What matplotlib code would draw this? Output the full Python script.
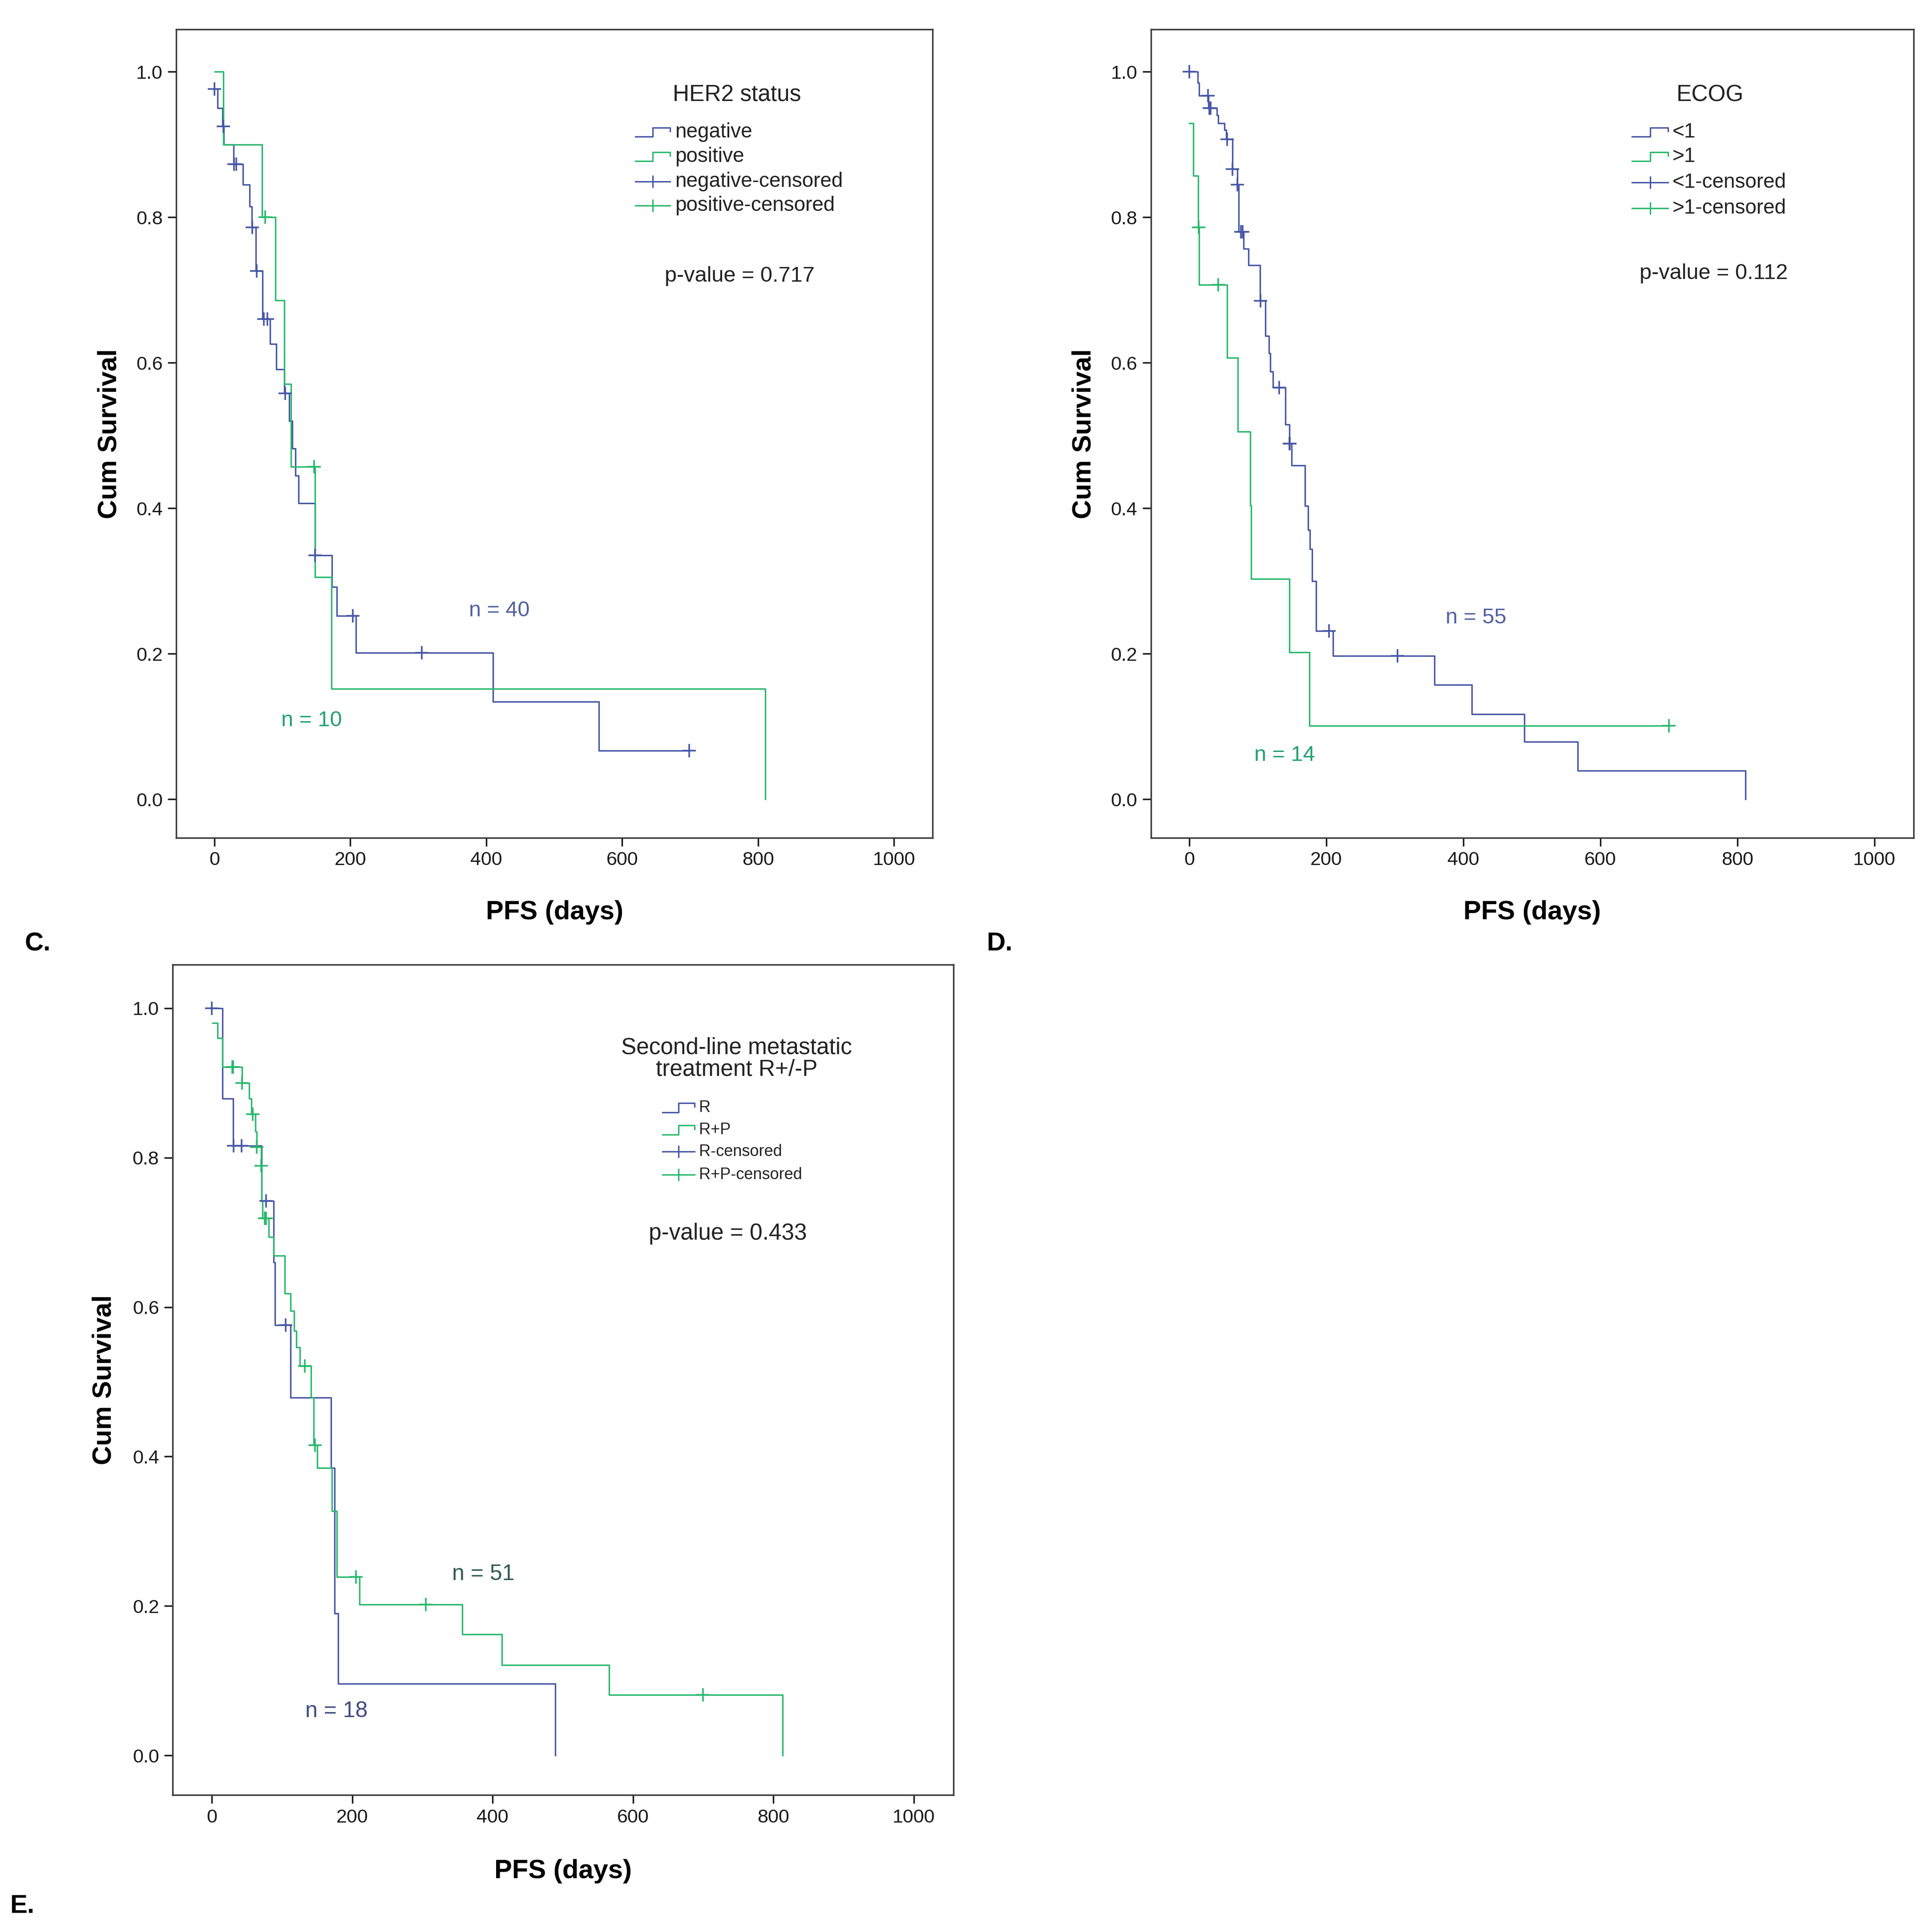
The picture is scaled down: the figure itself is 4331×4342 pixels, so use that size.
import numpy as np
import matplotlib
matplotlib.use('Agg')
import matplotlib.pyplot as plt
from matplotlib import font_manager

plt.rcParams['font.family'] = ['Liberation Sans', 'DejaVu Sans']
installed = {f.name for f in font_manager.fontManager.ttflist}
NARROW = 'Liberation Sans Narrow' if 'Liberation Sans Narrow' in installed else 'Liberation Sans'

BLUE = '#4656a6'
GREEN = '#27b86c'

# Kaplan-Meier step curves: step times (days), level after step
# panel C: HER2 status
c_neg_t = [0, 5, 12, 14, 28, 42, 52, 55, 61, 71, 82, 91, 103, 110, 115, 119, 124, 148, 173, 180, 208, 410, 566]
c_neg_s = [0.976, 0.95, 0.925, 0.9, 0.873, 0.845, 0.815, 0.786, 0.726, 0.66, 0.626, 0.591, 0.558, 0.52,
           0.482, 0.445, 0.407, 0.335, 0.292, 0.252, 0.201, 0.134, 0.067]
c_neg_end = 699
c_neg_cens = [0, 13, 29, 32, 56, 62, 73, 78, 104, 148, 204, 305, 699]

c_pos_t = [1, 13, 70, 90, 103, 113, 148, 172, 811]
c_pos_s = [1.0, 0.9, 0.8, 0.686, 0.571, 0.457, 0.305, 0.152, 0.0]
c_pos_end = 811
c_pos_cens = [75, 147]

# panel D: ECOG
d_lo_t = [0, 12, 14, 28, 40, 42, 51, 54, 63, 70, 72, 79, 86, 103, 111, 116, 118, 122, 140, 146, 149,
          169, 173, 176, 179, 185, 210, 358, 412, 489, 567, 812]
d_lo_s = [1.0, 0.985, 0.967, 0.95, 0.94, 0.929, 0.92, 0.907, 0.866, 0.845, 0.78, 0.757, 0.734, 0.685,
          0.637, 0.613, 0.588, 0.566, 0.515, 0.489, 0.459, 0.403, 0.37, 0.344, 0.3, 0.231, 0.197,
          0.157, 0.117, 0.079, 0.039, 0.0]
d_lo_end = 812
d_lo_cens = [0, 27, 29, 31, 55, 63, 70, 75, 78, 104, 131, 146, 147, 204, 304]

d_hi_t = [0, 6, 13, 14, 55, 71, 89, 90, 146, 175]
d_hi_s = [0.929, 0.857, 0.786, 0.707, 0.607, 0.505, 0.404, 0.303, 0.202, 0.101]
d_hi_end = 700
d_hi_cens = [13.5, 42, 700]

# panel E: second-line treatment
e_r_t = [0, 15, 30, 71, 88, 90, 112, 170, 175, 180, 489]
e_r_s = [1.0, 0.879, 0.816, 0.742, 0.66, 0.576, 0.479, 0.385, 0.19, 0.096, 0.0]
e_r_end = 489
e_r_cens = [0, 31, 42, 77, 105]

e_rp_t = [1, 8, 15, 43, 53, 56, 62, 64, 70, 71, 72, 81, 88, 104, 112, 117, 120, 125, 141, 145, 150,
          171, 178, 210, 357, 413, 566, 813]
e_rp_s = [0.98, 0.96, 0.921, 0.9, 0.879, 0.858, 0.835, 0.814, 0.789, 0.742, 0.719, 0.694, 0.669,
          0.618, 0.595, 0.568, 0.546, 0.521, 0.479, 0.415, 0.385, 0.327, 0.239, 0.202, 0.162,
          0.121, 0.081, 0.0]
e_rp_end = 813
e_rp_cens = [29, 30, 43, 58, 64, 70, 75, 77, 132, 147, 205, 305, 700]

x_ticks = [0, 200, 400, 600, 800, 1000]
y_ticks = [0.0, 0.2, 0.4, 0.6, 0.8, 1.0]


def km(ax, t, s, end, cens, color):
    t = np.asarray(t, float)
    s = np.asarray(s, float)
    ax.step(np.r_[t, end], np.r_[s, s[-1]], where='post', color=color, lw=2.4, zorder=3)
    idx = np.searchsorted(t, cens, side='right') - 1
    ax.plot(cens, s[idx], ls='none', marker='+', ms=21, mew=2.6, color=color, zorder=4)


def legend(ax, title, title_x, title_y, labels, rows_y, x0, x1, fs, title_fs):
    ax.text(title_x, title_y, title, transform=ax.transAxes, ha='center',
            va='center', fontsize=title_fs, color='#222222', linespacing=1.0)
    xm = (x0 + x1) / 2
    cols = [BLUE, GREEN, BLUE, GREEN]
    for i, (lab, y) in enumerate(zip(labels, rows_y)):
        c = cols[i]
        if i < 2:
            h = 0.0055
            ax.plot([x0, xm, xm, x1, x1], [y - h, y - h, y + h, y + h, y + 0.001],
                    transform=ax.transAxes, color=c, lw=2.3, clip_on=False)
        else:
            ax.plot([x0, x1], [y, y], transform=ax.transAxes, color=c, lw=2.3, clip_on=False)
            ax.plot([xm], [y], transform=ax.transAxes, marker='|', ms=20, mew=2.3, color=c,
                    clip_on=False)
        ax.text(x1 + 0.006, y, lab, transform=ax.transAxes, ha='left', va='center',
                fontsize=fs, color='#222222')


def style(ax):
    ax.set_xlim(-56, 1057)
    ax.set_ylim(-0.053, 1.058)
    ax.set_xticks(x_ticks)
    ax.set_yticks(y_ticks)
    ax.set_yticklabels(['%.1f' % v for v in y_ticks])
    ax.tick_params(direction='out', length=14, width=2.5, labelsize=31, pad=8,
                   colors='#1a1a1a', top=False, right=False)
    for lab in ax.get_xticklabels() + ax.get_yticklabels():
        lab.set_family(NARROW)
    for sp in ax.spines.values():
        sp.set_linewidth(2.5)
        sp.set_color('#3a3a3a')
    ax.set_xlabel('PFS (days)', fontsize=43, fontweight='bold')
    ax.set_ylabel('Cum Survival', fontsize=43, fontweight='bold')
    ax.xaxis.set_label_coords(0.5, -0.077)
    ax.yaxis.set_label_coords(-0.072, 0.5)


fig = plt.figure(figsize=(43.31, 43.42), dpi=100)

# C
ax = fig.add_axes([0.0915, 0.5664, 0.3925, 0.4183])
style(ax)
km(ax, c_neg_t, c_neg_s, c_neg_end, c_neg_cens, BLUE)
km(ax, c_pos_t, c_pos_s, c_pos_end, c_pos_cens, GREEN)
legend(ax, 'HER2 status', 0.741, 0.919, ['negative', 'positive', 'negative-censored', 'positive-censored'],
       [0.873, 0.843, 0.812, 0.782], 0.607, 0.653, 33, 37)
ax.text(0.745, 0.695, 'p-value = 0.717', transform=ax.transAxes, ha='center', va='center',
        fontsize=35, color='#222222')
ax.text(0.427, 0.281, 'n = 40', transform=ax.transAxes, ha='center', va='center',
        fontsize=35, color='#5060a0')
ax.text(0.179, 0.145, 'n = 10', transform=ax.transAxes, ha='center', va='center',
        fontsize=35, color='#22a070')

# D
ax = fig.add_axes([0.5973, 0.5664, 0.3957, 0.4183])
style(ax)
km(ax, d_lo_t, d_lo_s, d_lo_end, d_lo_cens, BLUE)
km(ax, d_hi_t, d_hi_s, d_hi_end, d_hi_cens, GREEN)
legend(ax, 'ECOG', 0.733, 0.919, ['<1', '>1', '<1-censored', '>1-censored'],
       [0.873, 0.843, 0.811, 0.779], 0.631, 0.678, 33, 37)
ax.text(0.738, 0.698, 'p-value = 0.112', transform=ax.transAxes, ha='center', va='center',
        fontsize=35, color='#222222')
ax.text(0.426, 0.272, 'n = 55', transform=ax.transAxes, ha='center', va='center',
        fontsize=35, color='#5060a0')
ax.text(0.175, 0.102, 'n = 14', transform=ax.transAxes, ha='center', va='center',
        fontsize=35, color='#22a070')

# E
ax = fig.add_axes([0.0896, 0.0709, 0.4053, 0.4297])
style(ax)
km(ax, e_r_t, e_r_s, e_r_end, e_r_cens, BLUE)
km(ax, e_rp_t, e_rp_s, e_rp_end, e_rp_cens, GREEN)
legend(ax, 'Second-line metastatic\ntreatment R+/-P', 0.722, 0.887, ['R', 'R+P', 'R-censored', 'R+P-censored'],
       [0.828, 0.801, 0.775, 0.747], 0.627, 0.668, 26, 37)
ax.text(0.711, 0.676, 'p-value = 0.433', transform=ax.transAxes, ha='center', va='center',
        fontsize=37, color='#222222')
ax.text(0.398, 0.266, 'n = 51', transform=ax.transAxes, ha='center', va='center',
        fontsize=36, color='#2f5a50')
ax.text(0.21, 0.101, 'n = 18', transform=ax.transAxes, ha='center', va='center',
        fontsize=36, color='#3e4a80')

fig.text(0.0128, 0.5115, 'C.', fontsize=42, fontweight='bold', ha='left', va='center')
fig.text(0.512, 0.5115, 'D.', fontsize=42, fontweight='bold', ha='left', va='center')
fig.text(0.005, 0.0134, 'E.', fontsize=42, fontweight='bold', ha='left', va='center')

fig.savefig('out.png', dpi=100, facecolor='white')
